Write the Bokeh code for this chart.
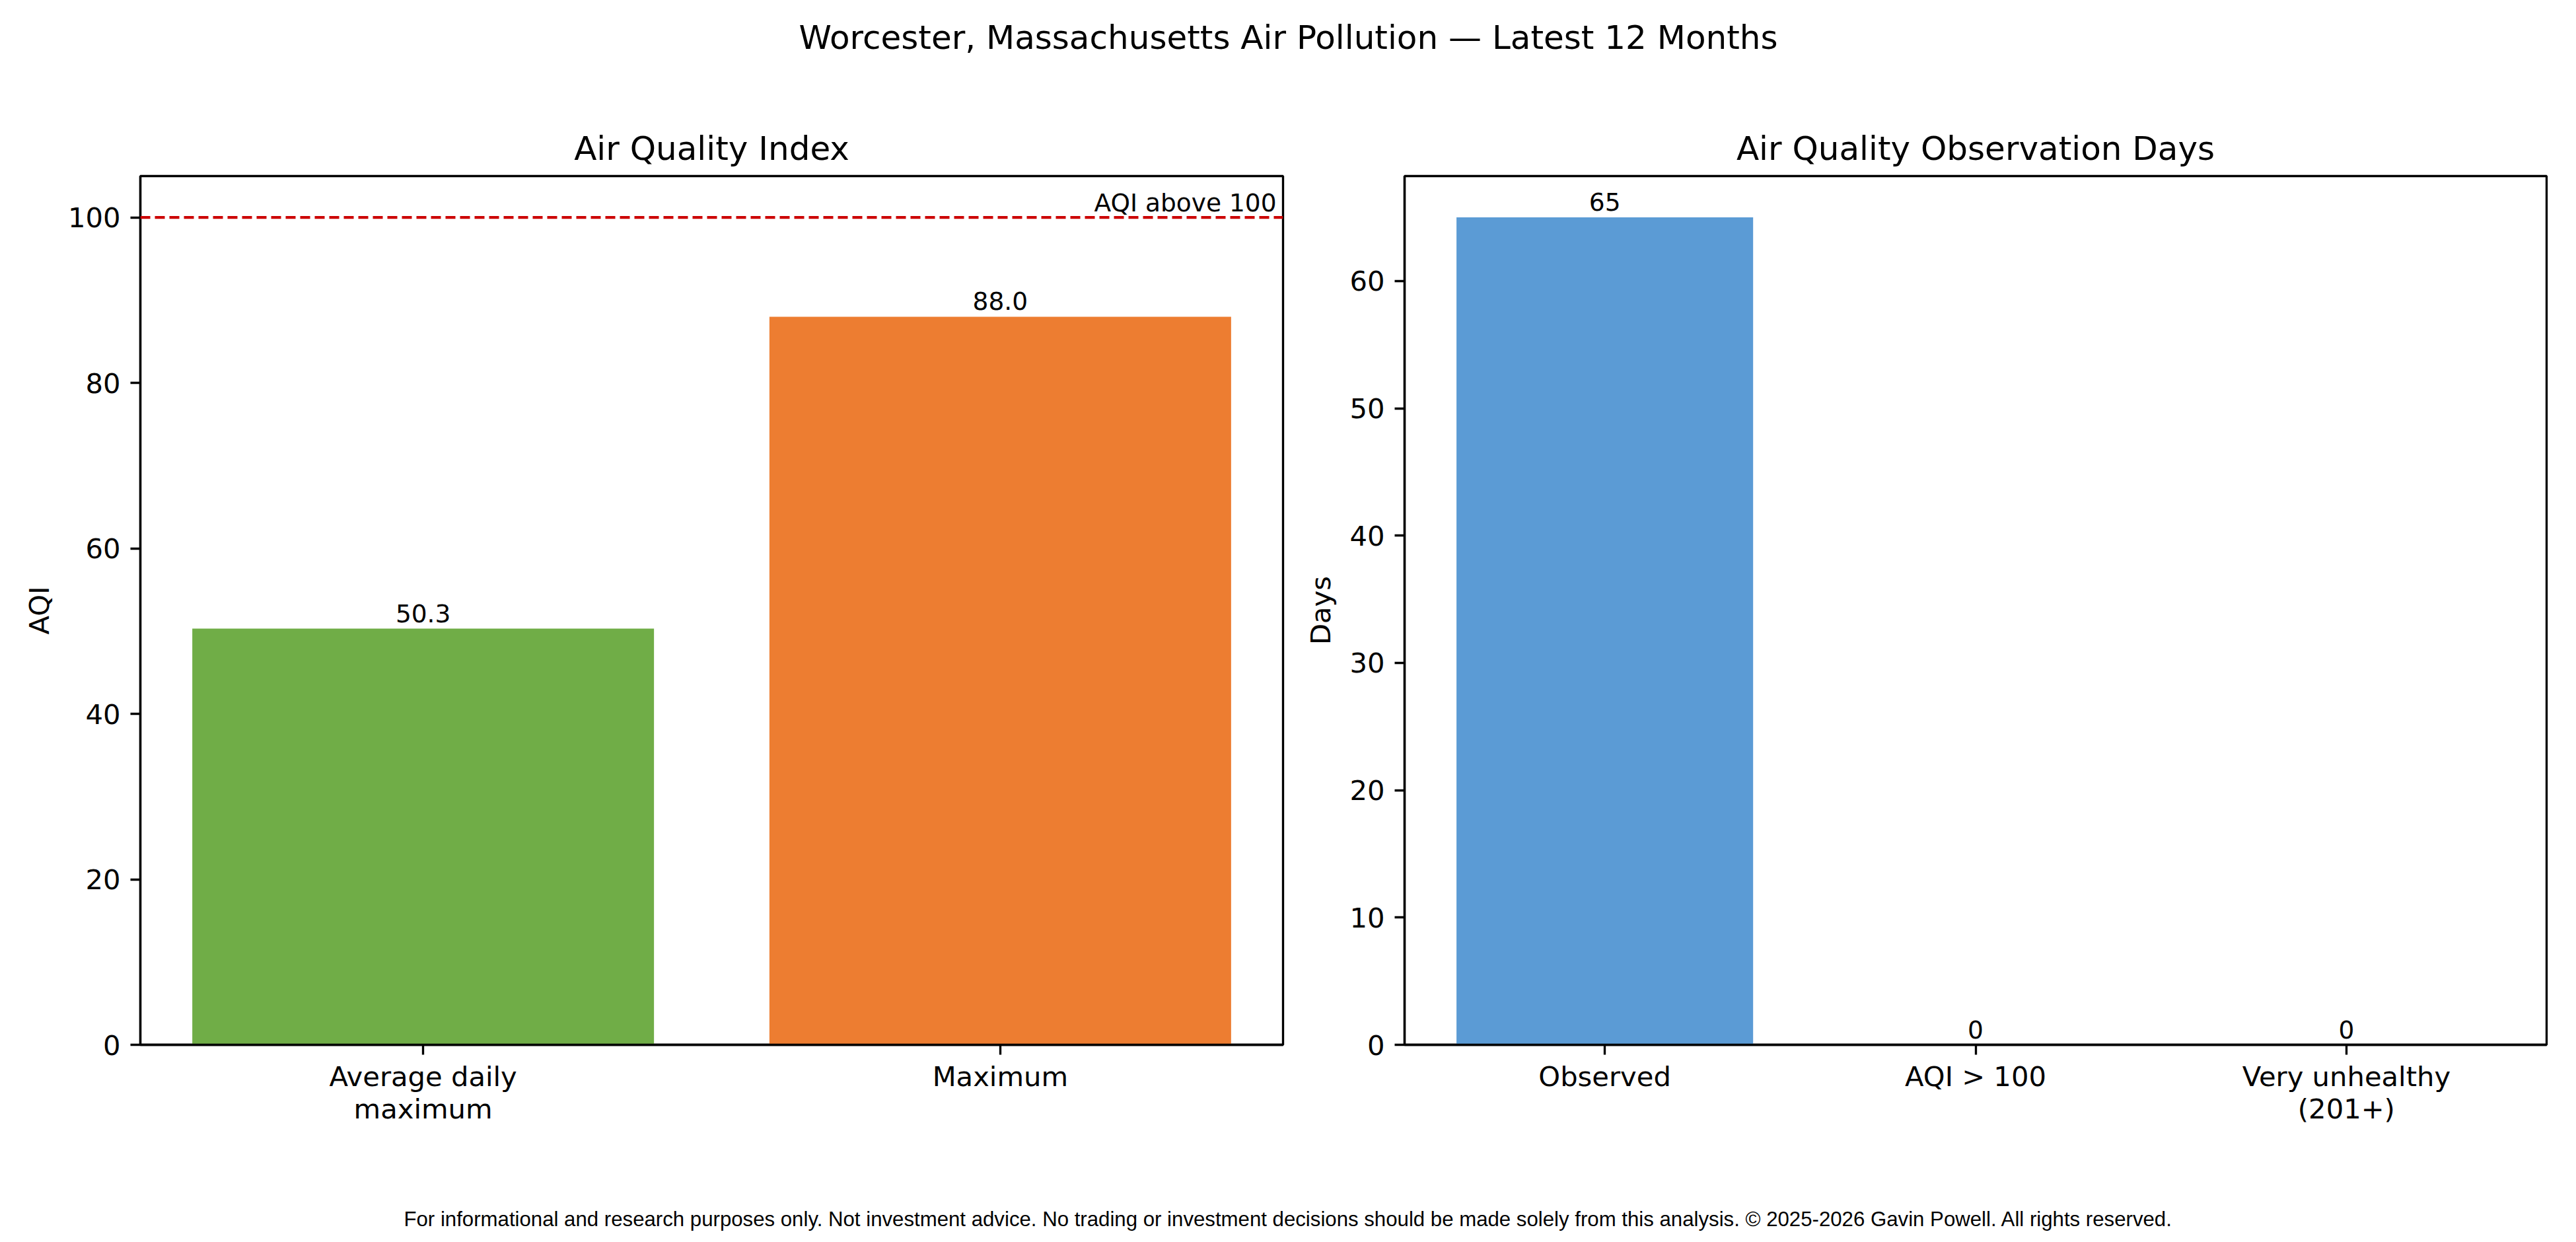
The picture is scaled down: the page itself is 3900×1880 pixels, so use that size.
from bokeh.plotting import figure
from bokeh.models import Range1d, FixedTicker, Span, Label, ColumnDataSource
from bokeh.layouts import column, row
from bokeh.embed import file_html
from bokeh.resources import INLINE
from bokeh.core.properties import value

# ---------------- data ----------------
suptitle_text = "Worcester, Massachusetts Air Pollution \u2014 Latest 12 Months"
footer_text = ("For informational and research purposes only. Not investment advice. "
               "No trading or investment decisions should be made solely from this analysis. "
               "\u00a9 2025-2026 Gavin Powell. All rights reserved.")

aqi_title = "Air Quality Index"
aqi_categories = ["Average daily\nmaximum", "Maximum"]
aqi_values = [50.3, 88.0]
aqi_threshold = 100
aqi_threshold_label = "AQI above 100"
aqi_ticks = [0, 20, 40, 60, 80, 100]

days_title = "Air Quality Observation Days"
day_categories = ["Observed", "AQI > 100", "Very unhealthy\n(201+)"]
day_values = [65, 0, 0]
day_ticks = [0, 10, 20, 30, 40, 50, 60]

# ---------------- styles ----------------
aqi_colors = ["#70AD47", "#ED7D31"]
day_colors = ["#5B9BD5", "#5B9BD5", "#5B9BD5"]
FONT = "DejaVu Sans"
TICK_FS = "41.7px"
TITLE_FS = "50px"
BAR_FS = "37.5px"
FOOT_FONT = "Liberation Sans"
FOOT_FS = "31.2px"
LW = 3.33

TOTAL_W = 3877


def style(p, ticks, cats):
    p.grid.visible = False
    p.background_fill_color = "white"
    p.border_fill_color = "white"
    p.outline_line_color = "black"
    p.outline_line_width = LW
    p.title.text_font = FONT
    p.title.text_font_size = TITLE_FS
    p.title.text_font_style = "normal"
    p.title.text_color = "black"
    p.title.align = "center"
    p.title.standoff = 25
    for ax in (p.xaxis, p.yaxis):
        ax.axis_line_color = "black"
        ax.axis_line_width = LW
        ax.major_tick_line_color = "black"
        ax.major_tick_line_width = LW
        ax.major_tick_out = 15
        ax.major_tick_in = 0
        ax.minor_tick_line_color = None
        ax.major_label_text_font = FONT
        ax.major_label_text_font_size = TICK_FS
        ax.major_label_text_color = "black"
        ax.major_label_standoff = 15
        ax.axis_label_text_font = FONT
        ax.axis_label_text_font_size = TICK_FS
        ax.axis_label_text_font_style = "normal"
        ax.axis_label_text_color = "black"
    p.xaxis.major_label_standoff = 8
    p.xaxis.major_label_text_line_height = 1.0
    p.yaxis.ticker = FixedTicker(ticks=ticks)
    p.xaxis.ticker = FixedTicker(ticks=list(range(len(cats))))
    p.xaxis.major_label_overrides = {i: c for i, c in enumerate(cats)}


def bar_panel(title, cats, vals, colors, ticks, ytop, ylabel, fmt,
              frame_w, left_b, right_b):
    n = len(cats)
    pad = 0.4 + 0.05 * (n - 1 + 0.8)
    p = figure(title=title, output_backend="svg", toolbar_location=None,
               frame_width=frame_w, frame_height=1315,
               min_border_left=left_b, min_border_right=right_b,
               min_border_top=158, min_border_bottom=200,
               x_range=Range1d(-pad, n - 1 + pad), y_range=Range1d(0, ytop))
    style(p, ticks, cats)
    p.yaxis.axis_label = ylabel
    p.yaxis.axis_label_standoff = 16
    src = ColumnDataSource(dict(x=list(range(n)), top=vals, color=colors,
                                label=[fmt.format(v) for v in vals]))
    p.vbar(x="x", top="top", width=0.8, bottom=0, source=src,
           fill_color="color", line_color=None)
    p.text(x="x", y="top", text="label", source=src, text_align="center",
           text_baseline="bottom", y_offset=-10, text_font=value(FONT),
           text_font_size=BAR_FS, text_color="black")
    return p


p1 = bar_panel(aqi_title, aqi_categories, aqi_values, aqi_colors, aqi_ticks,
               aqi_threshold * 1.05, "AQI", "{:.1f}", 1730, 212, 20)
p1.add_layout(Span(location=aqi_threshold, dimension="width", line_color="#cc0000",
                   line_width=4.17, line_dash="15 7"))
p1.add_layout(Label(x=p1.x_range.end, y=aqi_threshold, text=aqi_threshold_label,
                    text_align="right", text_baseline="bottom", x_offset=-10,
                    text_font=FONT, text_font_size=BAR_FS, text_color="black"))

p2 = bar_panel(days_title, day_categories, day_values, day_colors, day_ticks,
               max(day_values) * 1.05, "Days", "{:d}", 1729, 164, 22)


def text_strip(h, txt, baseline_from_bottom, font, size):
    p = figure(width=TOTAL_W, height=h, output_backend="svg", toolbar_location=None,
               x_range=Range1d(0, TOTAL_W), y_range=Range1d(0, h),
               min_border=0)
    p.axis.visible = False
    p.grid.visible = False
    p.outline_line_color = None
    p.border_fill_color = "white"
    p.add_layout(Label(x=1950, y=baseline_from_bottom, text=txt, text_align="center",
                       text_baseline="alphabetic", text_font=font,
                       text_font_size=size, text_color="black"))
    return p


top = text_strip(108, suptitle_text, 52, FONT, TITLE_FS)
bottom = text_strip(83, footer_text, 19, FOOT_FONT, FOOT_FS)

layout = column(top, row(p1, p2), bottom)
open("out.html", "w").write(file_html(layout, INLINE))
